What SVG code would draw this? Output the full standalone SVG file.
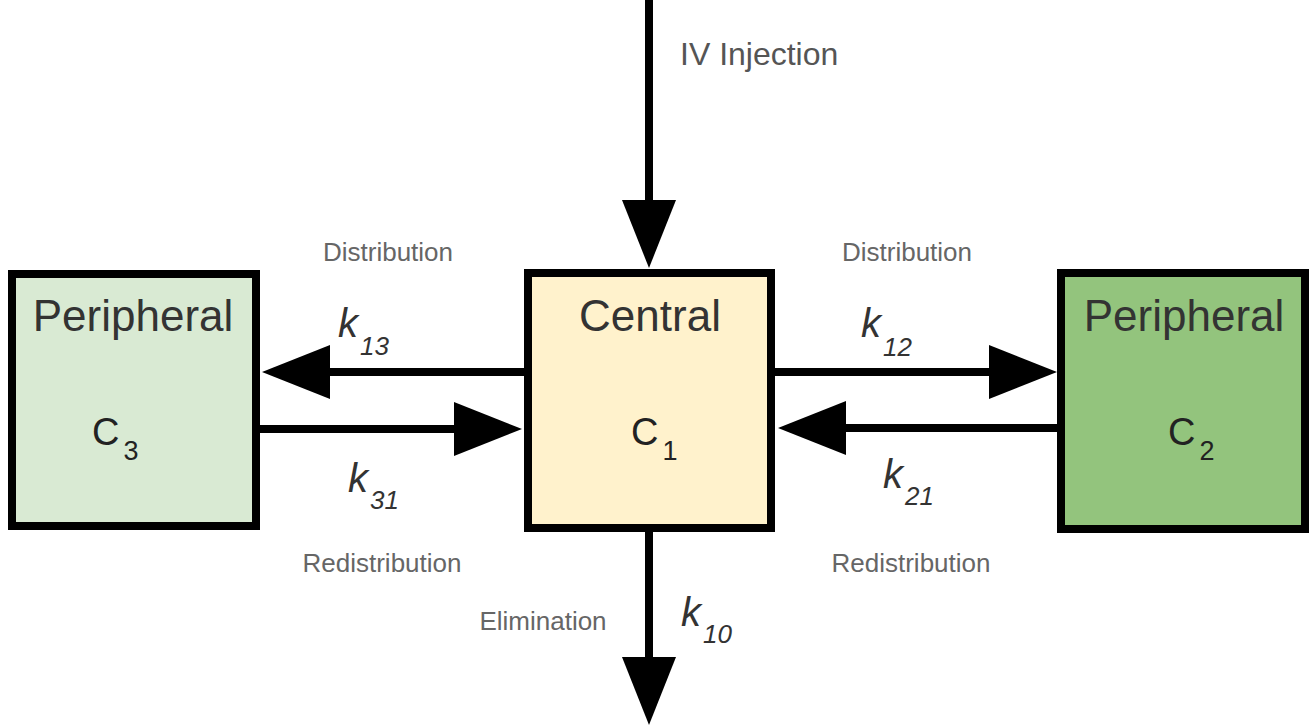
<svg xmlns="http://www.w3.org/2000/svg" width="1309" height="727" viewBox="0 0 1309 727">
  <defs>
    <marker id="head" viewBox="0 0 68 54" refX="0" refY="27" markerWidth="68" markerHeight="54" markerUnits="userSpaceOnUse" orient="auto">
      <path d="M0,0 L68,27 L0,54 Z" fill="#000"/>
    </marker>
    <style>
      .box { stroke: #000; stroke-width: 8; }
      .title { font-family: "Liberation Sans", Arial, sans-serif; font-size: 44px; fill: #333; text-anchor: middle; }
      .conc { font-family: "Liberation Sans", Arial, sans-serif; font-size: 38px; fill: #222; }
      .sub { font-size: 27px; }
      .rate { font-family: "Liberation Sans", Arial, sans-serif; font-size: 40px; font-style: italic; fill: #333; }
      .rsub { font-size: 26px; }
      .lbl { font-family: "Liberation Sans", Arial, sans-serif; font-size: 26px; fill: #666; text-anchor: middle; }
      .conn { stroke: #000; stroke-width: 8; fill: none; marker-end: url(#head); }
    </style>
  </defs>

  <g id="connectors">
    <line class="conn" x1="649" y1="0" x2="649" y2="200"/>
    <line class="conn" x1="524" y1="372" x2="330" y2="372"/>
    <line class="conn" x1="260" y1="429" x2="454" y2="429"/>
    <line class="conn" x1="775" y1="372" x2="989" y2="372"/>
    <line class="conn" x1="1057" y1="428" x2="846" y2="428"/>
    <line class="conn" x1="649" y1="532" x2="649" y2="657"/>
  </g>

  <g id="peripheral3">
    <rect class="box" x="12" y="274" width="244" height="252" fill="#d9ead3"/>
    <text class="title" x="133" y="331">Peripheral</text>
    <text class="conc" x="92" y="445">C<tspan class="sub" dx="4" dy="15">3</tspan></text>
  </g>

  <g id="central">
    <rect class="box" x="528" y="273" width="243" height="255" fill="#fff2cc"/>
    <text class="title" x="650" y="331">Central</text>
    <text class="conc" x="631" y="445">C<tspan class="sub" dx="4" dy="15">1</tspan></text>
  </g>

  <g id="peripheral2">
    <rect class="box" x="1061" y="273" width="244" height="256" fill="#93c47d"/>
    <text class="title" x="1184" y="331">Peripheral</text>
    <text class="conc" x="1168" y="445">C<tspan class="sub" dx="4" dy="15">2</tspan></text>
  </g>

  <g id="labels">
    <text x="680" y="65" style="font-family: 'Liberation Sans', Arial, sans-serif; font-size: 32px; fill: #555;">IV Injection</text>
    <text class="lbl" x="388" y="261">Distribution</text>
    <text class="lbl" x="907" y="261">Distribution</text>
    <text class="lbl" x="382" y="572">Redistribution</text>
    <text class="lbl" x="911" y="572">Redistribution</text>
    <text class="lbl" x="543" y="630">Elimination</text>
    <text class="rate" x="338" y="337">k<tspan class="rsub" dx="2" dy="18">13</tspan></text>
    <text class="rate" x="861" y="337">k<tspan class="rsub" dx="2" dy="19">12</tspan></text>
    <text class="rate" x="348" y="492">k<tspan class="rsub" dx="2" dy="17">31</tspan></text>
    <text class="rate" x="883" y="488">k<tspan class="rsub" dx="2" dy="17">21</tspan></text>
    <text class="rate" x="681" y="626">k<tspan class="rsub" dx="2" dy="17">10</tspan></text>
  </g>
</svg>
